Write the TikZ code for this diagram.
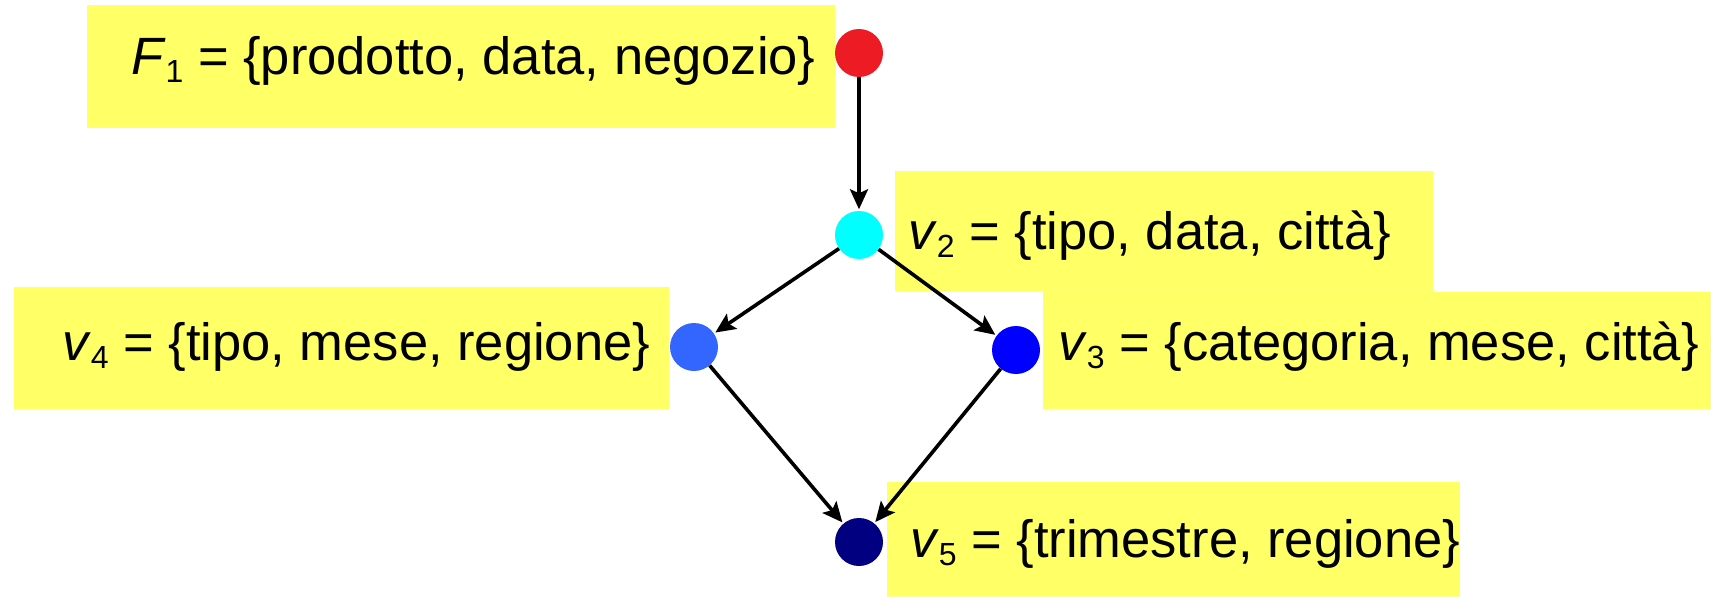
\documentclass[tikz,border=0pt]{standalone}
\usepackage{fontspec}
\setmainfont{Liberation Sans}
\usetikzlibrary{arrows.meta}
\definecolor{boxyellow}{RGB}{255,255,102}
\definecolor{dotred}{RGB}{237,28,36}
\definecolor{dotcyan}{RGB}{0,255,255}
\definecolor{dotmid}{RGB}{51,102,255}
\definecolor{dotblue}{RGB}{0,0,255}
\definecolor{dotnavy}{RGB}{0,0,128}
\newcommand{\sub}[1]{\raisebox{-8pt}{\fontsize{32}{32}\selectfont #1}}
\begin{document}
\begin{tikzpicture}[x=1pt,y=-1pt,
  dot/.style={circle,minimum size=48pt,inner sep=0pt},
  lbl/.style={anchor=base west,inner sep=0pt,font=\fontsize{52.5}{60}\selectfont},
  conn/.style={line width=3.6pt,-{Stealth[length=20pt,width=18pt,inset=4pt]},shorten >=1.5pt}]
\useasboundingbox (0,0) rectangle (1711,597);
% yellow label boxes
\fill[boxyellow] (87,5) rectangle (835,128);
\fill[boxyellow] (895,171) rectangle (1433,291);
\fill[boxyellow] (14,287) rectangle (669,409);
\fill[boxyellow] (1043,292) rectangle (1711,409);
\fill[boxyellow] (887,482) rectangle (1460,597);
% dots
\node[dot,fill=dotred] (f1) at (859,53) {};
\node[dot,fill=dotcyan] (v2) at (859,235) {};
\node[dot,fill=dotmid] (v4) at (694,347) {};
\node[dot,fill=dotblue] (v3) at (1016,350) {};
\node[dot,fill=dotnavy] (v5) at (859,542) {};
% connectors
\draw[conn] (f1) -- (v2);
\draw[conn] (v2) -- (v4);
\draw[conn] (v2) -- (v3);
\draw[conn] (v4) -- (v5);
\draw[conn] (v3) -- (v5);
% labels
\node[lbl] (tf1) at (131,74) {\textit{F}\sub{1} = \{prodotto, data, negozio\}};
\node[lbl] (tv2) at (908,249) {\textit{v}\sub{2} = \{tipo, data, città\}};
\node[lbl] (tv4) at (62,360) {\textit{v}\sub{4} = \{tipo, mese, regione\}};
\node[lbl] (tv3) at (1058,360) {\textit{v}\sub{3} = \{categoria, mese, città\}};
\node[lbl] (tv5) at (910,557) {\textit{v}\sub{5} = \{trimestre, regione\}};
\end{tikzpicture}
\end{document}
